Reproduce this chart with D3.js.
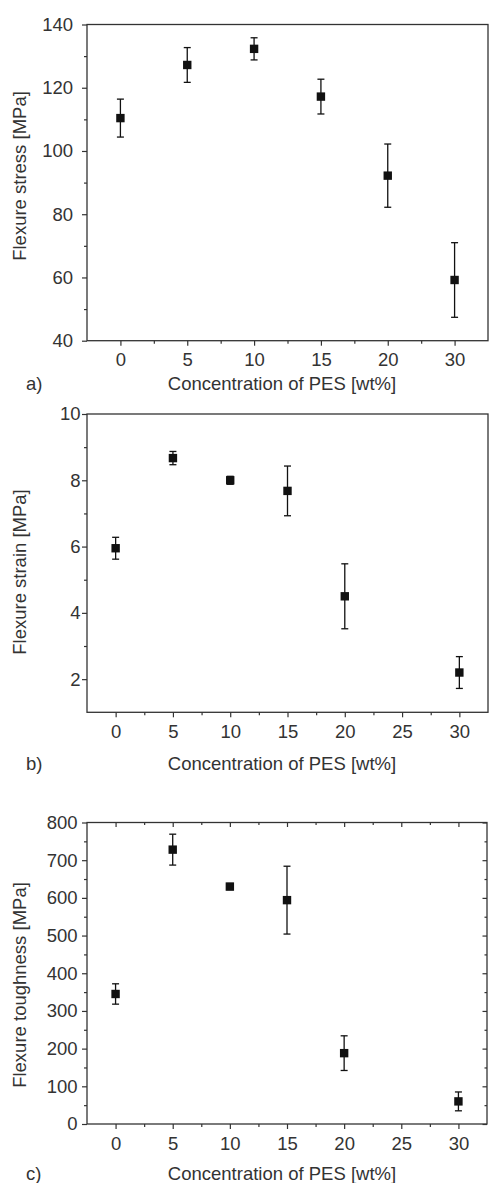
<!DOCTYPE html>
<html lang="en">
<head>
<meta charset="utf-8">
<title>Flexure properties vs. PES concentration</title>
<script src="https://d3js.org/d3.v7.min.js"></script>
<style>
  body { margin: 0; background: #fff; }
  svg text { font-family: "Liberation Sans", Arial, sans-serif; fill: #333; }
</style>
</head>
<body>
<script>
// concentration of PES [wt%]
const concLabels = ["0", "5", "10", "15", "20", "30"];
const concValues = [0, 5, 10, 15, 20, 30];
const concTicks = [0, 5, 10, 15, 20, 25, 30];
const concMinor = [2.5, 7.5, 12.5, 17.5, 22.5, 27.5];

// a) flexure stress
const stressMean = [110.4, 127.2, 132.3, 117.2, 92.2, 59.2];
const stressErr = [6.0, 5.5, 3.5, 5.5, 10.0, 11.8];
const stressTicks = [40, 60, 80, 100, 120, 140];
const stressMinor = [50, 70, 90, 110, 130];

// b) flexure strain
const strainMean = [5.95, 8.67, 8.0, 7.68, 4.5, 2.2];
const strainErr = [0.33, 0.2, 0.12, 0.75, 0.98, 0.48];
const strainTicks = [2, 4, 6, 8, 10];
const strainMinor = [3, 5, 7, 9];

// c) flexure toughness
const toughMean = [345, 728, 630, 594, 188, 60];
const toughErr = [27, 41, 8, 90, 46, 25];
const toughTicks = [0, 100, 200, 300, 400, 500, 600, 700, 800];
const toughMinor = [50, 150, 250, 350, 450, 550, 650, 750];

const svgW = 489, svgH = 1183;
const fontSize = "18.5px";
const ink = "#333";

const svg = d3.select("body").append("svg")
  .attr("width", svgW)
  .attr("height", svgH);

function styleAxis(g) {
  g.select(".domain").remove();
  g.selectAll("line").attr("stroke", ink).attr("stroke-width", 1.2);
  g.selectAll("text").attr("font-size", fontSize).attr("fill", ink)
    .attr("font-family", "Liberation Sans, Arial, sans-serif");
}

function drawPanel(p) {
  const g = svg.append("g");
  const x = d3.scaleLinear().domain(p.xDomain).range([p.left, p.right]);
  const y = d3.scaleLinear().domain(p.yDomain).range([p.bottom, p.top]);

  // bottom axis, major + minor
  g.append("g").attr("transform", `translate(0,${p.bottom})`)
    .call(d3.axisBottom(x).tickValues(p.xTicks).tickFormat(p.xFormat)
      .tickSize(5).tickPadding(p.xPad))
    .call(styleAxis);
  g.append("g").attr("transform", `translate(0,${p.bottom})`)
    .call(d3.axisBottom(x).tickValues(p.xMinor).tickFormat("").tickSize(3))
    .call(styleAxis);

  // left axis, major + minor
  g.append("g").attr("transform", `translate(${p.left},0)`)
    .call(d3.axisLeft(y).tickValues(p.yTicks).tickSize(5).tickPadding(p.yPad))
    .call(styleAxis);
  g.append("g").attr("transform", `translate(${p.left},0)`)
    .call(d3.axisLeft(y).tickValues(p.yMinor).tickFormat("").tickSize(3))
    .call(styleAxis);

  // inner ticks on top and right (panel c only)
  if (p.mirror) {
    g.append("g").attr("transform", `translate(0,${p.top})`)
      .call(d3.axisTop(x).tickValues(p.xTicks).tickFormat("").tickSize(-4.5))
      .call(styleAxis);
    g.append("g").attr("transform", `translate(0,${p.top})`)
      .call(d3.axisTop(x).tickValues(p.xMinor).tickFormat("").tickSize(-2.5))
      .call(styleAxis);
    g.append("g").attr("transform", `translate(${p.right},0)`)
      .call(d3.axisRight(y).tickValues(p.yTicks).tickFormat("").tickSize(-4.5))
      .call(styleAxis);
    g.append("g").attr("transform", `translate(${p.right},0)`)
      .call(d3.axisRight(y).tickValues(p.yMinor).tickFormat("").tickSize(-2.5))
      .call(styleAxis);
  }

  // frame
  g.append("rect")
    .attr("x", p.left).attr("y", p.top)
    .attr("width", p.right - p.left).attr("height", p.bottom - p.top)
    .attr("fill", "none").attr("stroke", ink).attr("stroke-width", 1.3);

  const pts = p.xs.map((xv, i) => ({ x: xv, m: p.mean[i], e: p.err[i] }));

  // error bars
  const eb = g.append("g").attr("stroke", "#111").attr("stroke-width", 1.3);
  eb.selectAll(".stem").data(pts).enter().append("line")
    .attr("x1", d => x(d.x)).attr("x2", d => x(d.x))
    .attr("y1", d => y(d.m - d.e)).attr("y2", d => y(d.m + d.e));
  [-1, 1].forEach(s => {
    eb.selectAll(".cap" + s).data(pts).enter().append("line")
      .attr("x1", d => x(d.x) - 3.5).attr("x2", d => x(d.x) + 3.5)
      .attr("y1", d => y(d.m + s * d.e)).attr("y2", d => y(d.m + s * d.e));
  });

  // square markers
  g.selectAll(".pt").data(pts).enter().append("rect")
    .attr("x", d => x(d.x) - 4.2).attr("y", d => y(d.m) - 4.2)
    .attr("width", 8.4).attr("height", 8.4)
    .attr("fill", "#111");

  // titles
  g.append("text")
    .attr("transform", `translate(${p.yTitleX},${p.yTitleY}) rotate(-90)`)
    .attr("text-anchor", "middle")
    .attr("font-size", fontSize)
    .text(p.yTitle);
  g.append("text")
    .attr("x", 282).attr("y", p.xTitleY)
    .attr("text-anchor", "middle")
    .attr("font-size", fontSize)
    .text("Concentration of PES [wt%]");
  g.append("text")
    .attr("x", 26).attr("y", p.xTitleY)
    .attr("font-size", fontSize)
    .text(p.tag);
}

// a) categories evenly spaced, so positions are indexes
drawPanel({
  left: 87, right: 488, top: 24.5, bottom: 340.7,
  xDomain: [-0.5, 5.5], yDomain: [40, 140],
  xs: concLabels.map((c, i) => i),
  xTicks: d3.range(concLabels.length), xMinor: d3.range(concLabels.length - 1).map(i => i + 0.5),
  xFormat: i => concLabels[i], xPad: 7.5,
  yTicks: stressTicks, yMinor: stressMinor, yPad: 9,
  mean: stressMean, err: stressErr,
  yTitle: "Flexure stress [MPa]", yTitleX: 26, yTitleY: 176,
  xTitleY: 389.5, tag: "a)", mirror: false
});

drawPanel({
  left: 87, right: 488, top: 414, bottom: 712.3,
  xDomain: [-2.5, 32.5], yDomain: [1, 10],
  xs: concValues,
  xTicks: concTicks, xMinor: concMinor, xFormat: d3.format("d"), xPad: 7.5,
  yTicks: strainTicks, yMinor: strainMinor, yPad: 1.5,
  mean: strainMean, err: strainErr,
  yTitle: "Flexure strain [MPa]", yTitleX: 26, yTitleY: 572,
  xTitleY: 770, tag: "b)", mirror: false
});

drawPanel({
  left: 87, right: 487, top: 822.5, bottom: 1124,
  xDomain: [-2.5, 32.5], yDomain: [0, 800],
  xs: concValues,
  xTicks: concTicks, xMinor: concMinor, xFormat: d3.format("d"), xPad: 7.5,
  yTicks: toughTicks, yMinor: toughMinor, yPad: 4.5,
  mean: toughMean, err: toughErr,
  yTitle: "Flexure toughness [MPa]", yTitleX: 26, yTitleY: 985,
  xTitleY: 1180, tag: "c)", mirror: true
});
</script>
</body>
</html>
